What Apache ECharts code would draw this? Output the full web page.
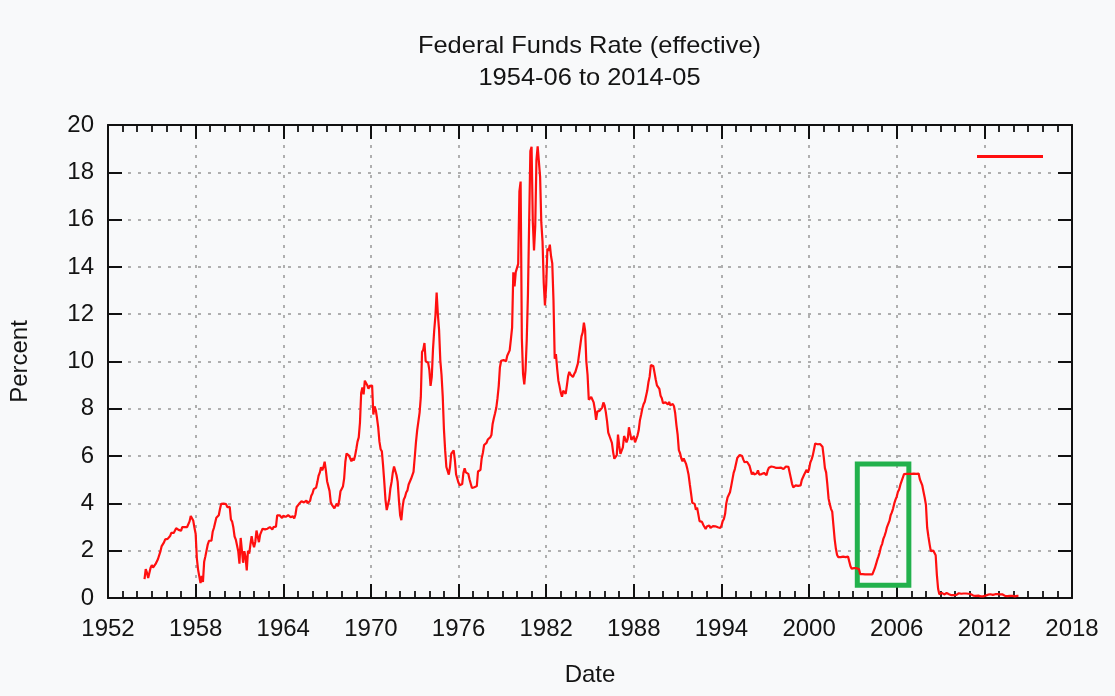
<!DOCTYPE html>
<html>
<head>
<meta charset="utf-8">
<title>Federal Funds Rate (effective)</title>
<script src="https://cdn.jsdelivr.net/npm/echarts@6/dist/echarts.min.js"></script>
<style>
  html, body { margin: 0; padding: 0; background: #f8f9fa; }
  #chart { width: 1115px; height: 696px; }
</style>
</head>
<body>
<div id="chart"></div>
<script>
// 坐标轴起点年份（x 轴以距 1952 年的年数表示）
const baseYear = 1952;
const yearTicks = [1952, 1958, 1964, 1970, 1976, 1982, 1988, 1994, 2000, 2006, 2012, 2018];
const percentTicks = [0, 2, 4, 6, 8, 10, 12, 14, 16, 18, 20];

// 第一个月份
const startYear = 1954;
const startMonth = 7;

// 月度有效联邦基金利率（%）
const monthlyRate = [
  0.80, 1.22, 1.07, 0.85, 0.83, 1.28,                                   // 1954
  1.39, 1.29, 1.35, 1.43, 1.43, 1.64, 1.68, 1.96, 2.18, 2.24, 2.35, 2.48, // 1955
  2.45, 2.50, 2.50, 2.62, 2.75, 2.71, 2.75, 2.73, 2.95, 2.96, 2.88, 2.94, // 1956
  2.84, 3.00, 2.96, 3.00, 3.00, 3.00, 2.99, 3.24, 3.47, 3.50, 3.28, 2.98, // 1957
  2.72, 1.67, 1.20, 1.26, 0.63, 0.93, 0.68, 1.53, 1.76, 1.80, 2.27, 2.42, // 1958
  2.48, 2.43, 2.80, 2.96, 2.90, 3.39, 3.47, 3.50, 3.76, 3.98, 4.00, 3.99, // 1959
  3.99, 3.97, 3.84, 3.92, 3.85, 3.32, 3.23, 2.98, 2.60, 2.47, 2.44, 1.98, // 1960
  1.45, 2.54, 2.02, 1.49, 1.98, 1.73, 1.17, 2.00, 1.88, 2.26, 2.61, 2.33, // 1961
  2.15, 2.37, 2.85, 2.78, 2.36, 2.68, 2.71, 2.93, 2.90, 2.90, 2.94, 2.93, // 1962
  2.92, 3.00, 2.98, 2.90, 3.00, 2.99, 3.02, 3.49, 3.48, 3.50, 3.48, 3.38, // 1963
  3.48, 3.48, 3.43, 3.47, 3.50, 3.50, 3.42, 3.50, 3.45, 3.36, 3.52, 3.85, // 1964
  3.90, 3.98, 4.04, 4.09, 4.10, 4.04, 4.09, 4.12, 4.01, 4.08, 4.10, 4.32, // 1965
  4.42, 4.60, 4.65, 4.67, 4.90, 5.17, 5.30, 5.53, 5.40, 5.53, 5.76, 5.40, // 1966
  4.94, 5.00, 4.53, 4.05, 3.94, 3.98, 3.79, 3.90, 3.99, 3.88, 4.13, 4.51, // 1967
  4.61, 4.71, 5.05, 5.76, 6.11, 6.07, 6.02, 6.03, 5.78, 5.91, 5.82, 6.02, // 1968
  6.30, 6.61, 6.79, 7.41, 8.67, 8.90, 8.61, 9.19, 9.15, 9.00, 8.85, 8.97, // 1969
  8.98, 8.98, 7.76, 8.10, 7.95, 7.61, 7.21, 6.61, 6.29, 6.20, 5.60, 4.90, // 1970
  4.14, 3.72, 3.71, 4.16, 4.63, 4.91, 5.31, 5.56, 5.55, 5.20, 4.91, 4.14, // 1971
  3.50, 3.29, 3.83, 4.17, 4.27, 4.46, 4.55, 4.80, 4.87, 5.04, 5.06, 5.33, // 1972
  5.94, 6.58, 7.09, 7.12, 7.84, 8.49, 10.40, 10.50, 10.78, 10.01, 10.03, 9.95, // 1973
  9.65, 8.97, 9.35, 10.51, 11.31, 11.93, 12.92, 12.01, 11.34, 10.06, 9.45, 8.53, // 1974
  7.13, 6.24, 5.54, 5.49, 5.22, 5.55, 6.10, 6.14, 6.24, 5.82, 5.22, 5.20, // 1975
  4.87, 4.77, 4.84, 4.82, 5.29, 5.48, 5.31, 5.29, 5.25, 5.02, 4.95, 4.65, // 1976
  4.61, 4.68, 4.69, 4.73, 5.35, 5.39, 5.42, 5.90, 6.14, 6.47, 6.51, 6.56, // 1977
  6.70, 6.78, 6.79, 6.89, 7.36, 7.60, 7.81, 8.04, 8.45, 8.96, 9.76, 10.03, // 1978
  10.07, 10.06, 10.09, 10.01, 10.24, 10.29, 10.47, 10.94, 11.43, 13.77, 13.18, 13.78, // 1979
  13.82, 14.13, 17.19, 17.61, 10.98, 9.47, 9.03, 9.61, 10.87, 12.81, 15.85, 18.90, // 1980
  19.08, 15.93, 14.70, 15.72, 18.52, 19.10, 19.04, 17.82, 15.87, 15.08, 13.31, 12.37, // 1981
  13.22, 14.78, 14.68, 14.94, 14.45, 14.15, 12.59, 10.12, 10.31, 9.71, 9.20, 8.95, // 1982
  8.68, 8.51, 8.77, 8.80, 8.63, 8.98, 9.37, 9.56, 9.45, 9.48, 9.34, 9.47, // 1983
  9.56, 9.59, 9.91, 10.29, 10.32, 11.06, 11.23, 11.64, 11.30, 9.99, 9.43, 8.38, // 1984
  8.35, 8.50, 8.58, 8.27, 7.97, 7.53, 7.88, 7.90, 7.92, 7.99, 8.05, 8.27, // 1985
  8.14, 7.86, 7.48, 6.99, 6.85, 6.92, 6.56, 6.17, 5.89, 5.85, 6.04, 6.91, // 1986
  6.43, 6.10, 6.13, 6.37, 6.85, 6.73, 6.58, 6.73, 7.22, 7.29, 6.69, 6.77, // 1987
  6.83, 6.58, 6.58, 6.87, 7.09, 7.51, 7.75, 8.01, 8.19, 8.30, 8.35, 8.76, // 1988
  9.12, 9.36, 9.85, 9.84, 9.81, 9.53, 9.24, 8.99, 9.02, 8.84, 8.55, 8.45, // 1989
  8.23, 8.24, 8.28, 8.26, 8.18, 8.29, 8.15, 8.13, 8.20, 8.11, 7.81, 7.31, // 1990
  6.91, 6.25, 6.12, 5.91, 5.78, 5.90, 5.82, 5.66, 5.45, 5.21, 4.81, 4.43, // 1991
  4.03, 4.06, 3.98, 3.73, 3.82, 3.76, 3.25, 3.30, 3.22, 3.10, 3.09, 2.92, // 1992
  3.02, 3.03, 3.07, 2.96, 3.00, 3.04, 3.06, 3.03, 3.09, 2.99, 3.02, 2.96, // 1993
  3.05, 3.25, 3.34, 3.56, 4.01, 4.25, 4.26, 4.47, 4.73, 4.76, 5.29, 5.45, // 1994
  5.53, 5.92, 5.98, 6.05, 6.01, 6.00, 5.85, 5.74, 5.80, 5.76, 5.80, 5.60, // 1995
  5.56, 5.22, 5.31, 5.22, 5.24, 5.27, 5.40, 5.22, 5.30, 5.24, 5.31, 5.29, // 1996
  5.25, 5.19, 5.39, 5.51, 5.50, 5.56, 5.52, 5.54, 5.54, 5.50, 5.52, 5.50, // 1997
  5.56, 5.51, 5.49, 5.45, 5.49, 5.56, 5.54, 5.55, 5.51, 5.07, 4.83, 4.68, // 1998
  4.63, 4.76, 4.81, 4.74, 4.74, 4.76, 4.99, 5.07, 5.22, 5.20, 5.42, 5.30, // 1999
  5.45, 5.73, 5.85, 6.02, 6.27, 6.53, 6.54, 6.50, 6.52, 6.51, 6.51, 6.40, // 2000
  5.98, 5.49, 5.31, 4.80, 4.21, 3.97, 3.77, 3.65, 3.07, 2.49, 2.09, 1.82, // 2001
  1.73, 1.74, 1.73, 1.75, 1.75, 1.75, 1.73, 1.74, 1.75, 1.75, 1.34, 1.24, // 2002
  1.24, 1.26, 1.25, 1.26, 1.26, 1.22, 1.01, 1.03, 1.01, 1.01, 1.00, 0.98, // 2003
  1.00, 1.01, 1.00, 1.00, 1.00, 1.03, 1.26, 1.43, 1.61, 1.76, 1.93, 2.16, // 2004
  2.28, 2.50, 2.63, 2.79, 3.00, 3.04, 3.26, 3.50, 3.62, 3.78, 4.00, 4.16, // 2005
  4.29, 4.49, 4.59, 4.79, 4.94, 4.99, 5.24, 5.25, 5.25, 5.25, 5.25, 5.24, // 2006
  5.25, 5.26, 5.26, 5.25, 5.25, 5.25, 5.26, 5.02, 4.94, 4.76, 4.49, 4.24, // 2007
  3.94, 2.98, 2.61, 2.28, 1.98, 2.00, 2.01, 2.00, 1.81, 0.97, 0.39, 0.16, // 2008
  0.15, 0.22, 0.18, 0.15, 0.18, 0.21, 0.16, 0.16, 0.15, 0.12, 0.12, 0.12, // 2009
  0.11, 0.13, 0.16, 0.20, 0.20, 0.18, 0.18, 0.19, 0.19, 0.19, 0.19, 0.18, // 2010
  0.17, 0.16, 0.14, 0.10, 0.09, 0.09, 0.07, 0.10, 0.08, 0.07, 0.08, 0.07, // 2011
  0.08, 0.10, 0.13, 0.14, 0.16, 0.16, 0.16, 0.13, 0.14, 0.16, 0.16, 0.16, // 2012
  0.14, 0.15, 0.14, 0.15, 0.11, 0.09, 0.09, 0.08, 0.08, 0.09, 0.08, 0.09, // 2013
  0.07, 0.07, 0.08, 0.09, 0.09                                          // 2014
];

// 绿色标注框（年份、百分比）
const boxYears = [2003.3, 2006.83];
const boxPercent = [0.54, 5.67];

const titleLines = ['Federal Funds Rate (effective)', '1954-06 to 2014-05'];

document.addEventListener('DOMContentLoaded', function() {
    const chart = echarts.init(document.getElementById('chart'));

    const FONT = 'Liberation Sans';
    const TEXT = '#141414';

    // 日期换算成距 1952 年的年数
    const points = monthlyRate.map((v, i) => [
        (startYear - baseYear) + (startMonth - 1 + i) / 12,
        v
    ]);

    const xMin = yearTicks[0] - baseYear;
    const xMax = yearTicks[yearTicks.length - 1] - baseYear;
    const xStep = yearTicks[1] - yearTicks[0];

    const dotted = { color: '#969696', width: 1.5, type: [3, 7] };
    const blackLine = { color: '#111', width: 2 };

    const xCommon = {
        type: 'value',
        min: xMin,
        max: xMax,
        interval: xStep,
        axisLine: { show: true, onZero: false, lineStyle: blackLine },
        axisTick: { show: true, inside: true, length: 14, lineStyle: blackLine },
        minorTick: { show: true, splitNumber: xStep, length: 7, lineStyle: { color: '#111', width: 1.8 } }
    };

    const yCommon = {
        type: 'value',
        min: percentTicks[0],
        max: percentTicks[percentTicks.length - 1],
        interval: percentTicks[1] - percentTicks[0],
        axisLine: { show: true, onZero: false, lineStyle: blackLine },
        axisTick: { show: true, inside: true, length: 14, lineStyle: blackLine }
    };

    const option = {
        backgroundColor: '#f8f9fa',
        animation: false,
        textStyle: { fontFamily: FONT },
        grid: { left: 108, right: 43, top: 125, bottom: 98 },
        graphic: titleLines.map((t, i) => ({
            type: 'text',
            x: 589.5,
            y: 46 + i * 32,
            scaleX: 1.06,
            style: {
                text: t,
                fontFamily: FONT,
                fontSize: 24,
                fill: TEXT,
                align: 'center',
                verticalAlign: 'middle'
            }
        })),
        legend: {
            left: 972,
            top: 150,
            icon: 'rect',
            itemWidth: 66,
            itemHeight: 3,
            formatter: () => '',
            selectedMode: false
        },
        xAxis: [
            Object.assign({}, xCommon, {
                position: 'bottom',
                name: 'Date',
                nameLocation: 'middle',
                nameGap: 65,
                nameTextStyle: { fontFamily: FONT, fontSize: 24, color: TEXT },
                axisLabel: {
                    fontFamily: FONT, fontSize: 24, color: TEXT, margin: 19,
                    showMinLabel: true, showMaxLabel: true,
                    formatter: v => String(baseYear + v)
                },
                splitLine: { show: true, lineStyle: dotted }
            }),
            Object.assign({}, xCommon, {
                position: 'top',
                axisLabel: { show: false },
                splitLine: { show: false }
            })
        ],
        yAxis: [
            Object.assign({}, yCommon, {
                position: 'left',
                name: 'Percent',
                nameLocation: 'middle',
                nameGap: 76,
                nameTextStyle: { fontFamily: FONT, fontSize: 24, color: TEXT },
                axisLabel: { fontFamily: FONT, fontSize: 24, color: TEXT, margin: 14 },
                splitLine: { show: true, lineStyle: dotted }
            }),
            Object.assign({}, yCommon, {
                position: 'right',
                axisLabel: { show: false },
                splitLine: { show: false }
            })
        ],
        series: [{
            name: 'Federal Funds Rate',
            type: 'line',
            data: points,
            showSymbol: false,
            symbol: 'none',
            lineStyle: { color: '#ff0f0f', width: 2.2 },
            itemStyle: { color: '#ff0f0f' },
            markArea: {
                silent: true,
                itemStyle: { color: 'rgba(0,0,0,0)', borderColor: '#22b14c', borderWidth: 5 },
                data: [[
                    { coord: [boxYears[0] - baseYear, boxPercent[0]] },
                    { coord: [boxYears[1] - baseYear, boxPercent[1]] }
                ]]
            }
        }]
    };

    chart.setOption(option);

    window.addEventListener('resize', function() {
        chart.resize();
    });
});
</script>
</body>
</html>
